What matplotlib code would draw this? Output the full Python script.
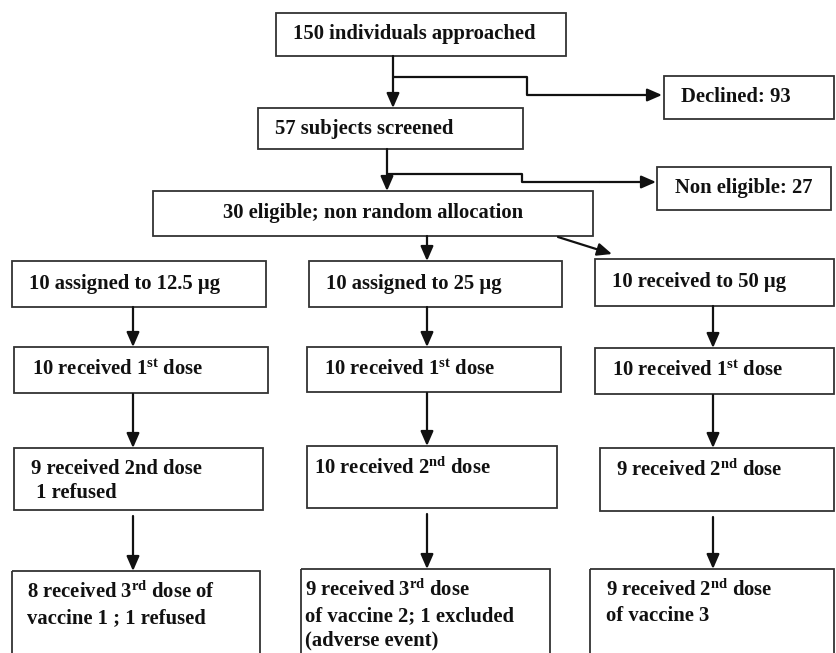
import matplotlib
matplotlib.use('Agg')
import matplotlib.pyplot as plt
from matplotlib.patches import Rectangle

plt.rcParams['font.family'] = ['Liberation Serif', 'DejaVu Serif']
plt.rcParams['font.weight'] = 'bold'
plt.rcParams['mathtext.fontset'] = 'custom'
plt.rcParams['mathtext.rm'] = 'Liberation Serif:bold'
plt.rcParams['mathtext.it'] = 'Liberation Serif:bold'
plt.rcParams['mathtext.bf'] = 'Liberation Serif:bold'

# texts of the flow diagram
top_labels = ['150 individuals approached', '57 subjects screened',
              '30 eligible; non random allocation']
excluded_labels = ['Declined: 93', 'Non eligible: 27']
arm_assigned = ['10 assigned to 12.5 µg', '10 assigned to 25 µg', '10 received to 50 µg']
arm_first = ['10 received 1$^{\\mathrm{st}}$ dose'] * 3
arm_second = ['9 received 2nd dose\n 1 refused',
              '10 received 2$^{\\mathrm{nd}}$ dose',
              '9 received 2$^{\\mathrm{nd}}$ dose']
arm_third = ['8 received 3$^{\\mathrm{rd}}$ dose of\nvaccine 1 ; 1 refused',
             '9 received 3$^{\\mathrm{rd}}$ dose\nof vaccine 2; 1 excluded\n(adverse event)',
             '9 received 2$^{\\mathrm{nd}}$ dose\nof vaccine 3']

fig = plt.figure(figsize=(8.36, 6.53), dpi=100)
ax = fig.add_axes([0, 0, 1, 1])
ax.set_xlim(0, 836)
ax.set_ylim(653, 0)
ax.axis('off')

FS = 14.9
EDGE = '#333333'


def box(x0, y0, x1, y1, text, tx, ty, va='center'):
    ax.add_patch(Rectangle((x0, y0), x1 - x0, y1 - y0, fill=False,
                           ec=EDGE, lw=1.3, clip_on=False))
    ax.text(tx, ty, text, fontsize=FS, fontweight='bold', ha='left', va=va,
            linespacing=1.3, color='#111111')


def arrow(x0, y0, x1, y1):
    ax.annotate('', xy=(x1, y1), xytext=(x0, y0),
                arrowprops=dict(arrowstyle='-|>,head_length=0.55,head_width=0.24',
                                color='#111111', lw=1.6,
                                mutation_scale=16, shrinkA=0, shrinkB=0))


def line(xs, ys):
    ax.plot(xs, ys, color='#111111', lw=1.6, solid_capstyle='butt')


# top part
box(276, 13, 566, 56, top_labels[0], 293, 34)
box(258, 108, 523, 149, top_labels[1], 275, 129)
box(153, 191, 593, 236, top_labels[2], 223, 213)
box(664, 76, 834, 119, excluded_labels[0], 681, 97)
box(657, 167, 831, 210, excluded_labels[1], 675, 188)

arrow(393, 56, 393, 108)
line([393, 527, 527, 600], [77, 77, 95, 95])
arrow(600, 95, 662, 95)
arrow(387, 149, 387, 191)
line([387, 522, 522, 600], [174, 174, 182, 182])
arrow(600, 182, 656, 182)

# three arms
col_boxes = [(12, 266), (309, 562), (595, 834)]
arrow(427, 236, 427, 261)
arrow(558, 237, 612, 254)

row1 = [(261, 307), (261, 307), (259, 306)]
row2 = [(347, 393), (347, 392), (348, 394)]
row3 = [(448, 510), (446, 508), (448, 511)]
row4 = [(571, 670), (569, 670), (569, 670)]
row3_x = [(14, 263), (307, 557), (600, 834)]
row4_x = [(12, 260), (301, 550), (590, 834)]
row2_x = [(14, 268), (307, 561), (595, 834)]
arrow_x = [133, 427, 713]

text_x1 = [29, 326, 612]
text_x2 = [32, 324, 612]
text_x3 = [31, 314, 616]
text_x4 = [27, 305, 606]

for i in range(3):
    x0, x1 = col_boxes[i]
    box(x0, row1[i][0], x1, row1[i][1], arm_assigned[i], text_x1[i],
        (row1[i][0] + row1[i][1]) / 2)
    x0, x1 = row2_x[i]
    box(x0, row2[i][0], x1, row2[i][1], arm_first[i], text_x2[i],
        (row2[i][0] + row2[i][1]) / 2)
    x0, x1 = row3_x[i]
    box(x0, row3[i][0], x1, row3[i][1], arm_second[i], text_x3[i],
        row3[i][0] + 11, va='top')
    x0, x1 = row4_x[i]
    box(x0, row4[i][0], x1, row4[i][1], arm_third[i], text_x4[i],
        row4[i][0] + 11, va='top')
    arrow(arrow_x[i], row1[i][1], arrow_x[i], row2[i][0])
    arrow(arrow_x[i], row2[i][1] + 1, arrow_x[i], row3[i][0])
    arrow(arrow_x[i], row3[i][1] + 6, arrow_x[i], row4[i][0])

fig.savefig('out.png', dpi=100)
